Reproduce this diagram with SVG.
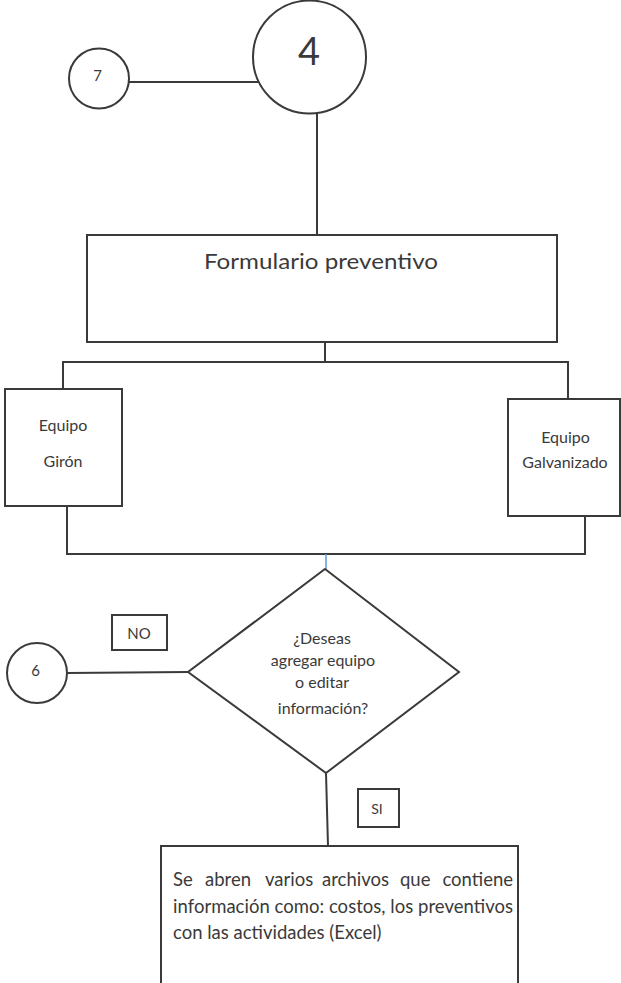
<svg xmlns="http://www.w3.org/2000/svg" width="621" height="983" viewBox="0 0 621 983">
  <style>
    .shape { fill: #ffffff; stroke: #3a3a3a; stroke-width: 2; }
    .wire { fill: none; stroke: #3a3a3a; stroke-width: 2; }
    .wire-blue { fill: none; stroke: #5b9bd5; stroke-width: 1.5; }
    text { font-family: Lato, "Open Sans", "Liberation Sans", sans-serif; fill: #3a3a3a; }
    .c { text-anchor: middle; }
    .lbl { font-size: 16px; }
    .body { font-size: 18.5px; }
  </style>
  <rect width="621" height="983" fill="#ffffff"/>

  <!-- connectors -->
  <g id="connectors">
    <line class="wire" x1="129" y1="82" x2="258" y2="82"/>
    <line class="wire" x1="317" y1="113" x2="317" y2="235"/>
    <polyline class="wire" points="325,342 325,362"/>
    <polyline class="wire" points="63,389 63,362 568,362 568,399"/>
    <polyline class="wire" points="67,506 67,554 585,554 585,516"/>
    <line class="wire-blue" x1="326" y1="554" x2="326" y2="569"/>
    <line class="wire" x1="67" y1="673" x2="188" y2="672"/>
    <line class="wire" x1="326" y1="773" x2="328" y2="846"/>
  </g>

  <!-- connector 4 -->
  <g id="node-4">
    <circle class="shape" cx="309.5" cy="57" r="56.5"/>
    <text class="c" x="309" y="65" font-size="38">4</text>
  </g>

  <!-- connector 7 -->
  <g id="node-7">
    <circle class="shape" cx="99" cy="78.5" r="30"/>
    <text class="c" x="97.5" y="81" font-size="15">7</text>
  </g>

  <!-- preventive form -->
  <g id="node-formulario">
    <rect class="shape" x="87" y="235" width="470" height="107"/>
    <text class="c" x="321" y="269" font-size="22" textLength="234" lengthAdjust="spacingAndGlyphs">Formulario preventivo</text>
  </g>

  <!-- equipment Girón -->
  <g id="node-giron">
    <rect class="shape" x="5" y="389" width="117" height="117"/>
    <text class="c lbl" x="63" y="431">Equipo</text>
    <text class="c lbl" x="63" y="467">Girón</text>
  </g>

  <!-- galvanized equipment -->
  <g id="node-galvanizado">
    <rect class="shape" x="508" y="399" width="112" height="117"/>
    <text class="c lbl" x="565.5" y="443">Equipo</text>
    <text class="c lbl" x="565" y="468">Galvanizado</text>
  </g>

  <!-- decision -->
  <g id="node-decision">
    <polygon class="shape" points="325,569 459,672 326,773 188,672"/>
    <text class="c lbl" x="322" y="644">¿Deseas</text>
    <text class="c lbl" x="323" y="666">agregar equipo</text>
    <text class="c lbl" x="322" y="688">o editar</text>
    <text class="c lbl" x="323" y="714">información?</text>
  </g>

  <!-- connector 6 -->
  <g id="node-6">
    <circle class="shape" cx="37" cy="673" r="30"/>
    <text class="c" x="35.5" y="676" font-size="15">6</text>
  </g>

  <!-- branch labels -->
  <g id="label-no">
    <rect class="shape" x="112" y="615" width="55" height="35"/>
    <text class="c" x="139" y="639" font-size="15">NO</text>
  </g>
  <g id="label-si">
    <rect class="shape" x="358" y="789" width="41" height="38"/>
    <text class="c" x="377" y="814" font-size="14">SI</text>
  </g>

  <!-- files opened -->
  <g id="node-archivos">
    <polyline class="shape" points="161,990 161,846 518,846 518,990"/>
    <text class="body" y="886">
      <tspan x="173">Se</tspan><tspan x="205">abren</tspan><tspan x="265">varios</tspan><tspan x="322">archivos</tspan><tspan x="400">que</tspan><tspan x="513" text-anchor="end">contiene</tspan>
    </text>
    <text class="body" x="173" y="913" textLength="340" lengthAdjust="spacing">información como: costos, los preventivos</text>
    <text class="body" x="173" y="939">con las actividades (Excel)</text>
  </g>
</svg>
